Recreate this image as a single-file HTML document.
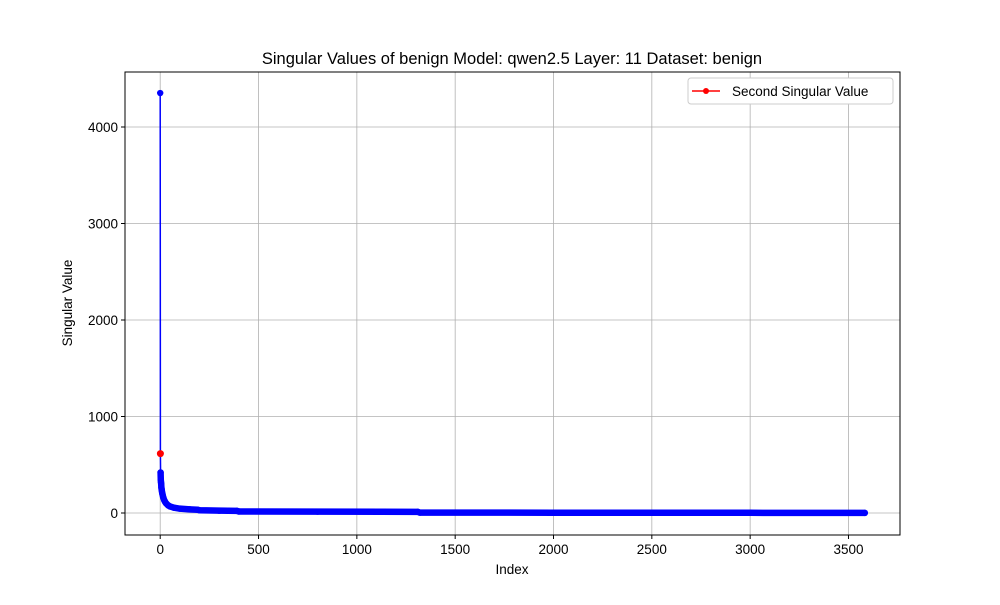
<!DOCTYPE html>
<html><head><meta charset="utf-8"><style>
body{margin:0;background:#fff}
svg{font-family:"Liberation Sans","DejaVu Sans",sans-serif}
</style></head><body>
<svg id="chart" width="1000" height="600">
<rect width="1000" height="600" fill="#fff"/>
<g id="grid"></g>
<g id="series"></g>
<rect x="125" y="72" width="775" height="463" fill="none" stroke="#000" stroke-width="1"/>
<g id="ticks"></g>
<text x="512" y="64" text-anchor="middle" font-size="16.5">Singular Values of benign Model: qwen2.5 Layer: 11 Dataset: benign</text>
<text x="512" y="574" text-anchor="middle" font-size="13.5">Index</text>
<text transform="translate(72,303) rotate(-90)" text-anchor="middle" font-size="13.5">Singular Value</text>
<g>
<rect x="688" y="78" width="205" height="26" rx="3" fill="#fff" stroke="#ccc"/>
<line x1="692" y1="91" x2="720" y2="91" stroke="red" stroke-width="1.5"/>
<circle cx="706" cy="91" r="3" fill="red"/>
<text x="732" y="96" font-size="13.5">Second Singular Value</text>
</g>
</svg>
<script>
const indices=[0,1,2,3,4,5,6,7,8,10,12,15,20,25,30,40,50,70,100,150,190,200,300,390,400,800,1310,1320,2000,3000,3583];
const values=[4352,615,420,345,320,300,265,250,235,210,190,165,135,115,100,80,68,55,45,38,34,28,24,22,16,14,12,4,3,2,1];
const xTicks=[0,500,1000,1500,2000,2500,3000,3500];
const yTicks=[0,1000,2000,3000,4000];
const secondIndex=1;
const X0=125,X1=900,Y0=535,Y1=72;
const xmin=-179,xmax=3762,ymin=-228,ymax=4570;
const sx=v=>X0+(v-xmin)/(xmax-xmin)*(X1-X0);
const sy=v=>Y0-(v-ymin)/(ymax-ymin)*(Y0-Y1);
const NS="http://www.w3.org/2000/svg";
function mk(t,a,p){const e=document.createElementNS(NS,t);for(const k in a)e.setAttribute(k,a[k]);p.appendChild(e);return e;}
const grid=document.getElementById('grid'),ticks=document.getElementById('ticks'),ser=document.getElementById('series');
xTicks.forEach(t=>{const x=sx(t);
const g=mk('line',{x1:x,x2:x,y1:Y1,y2:Y0,stroke:'#b0b0b0','stroke-width':0.8},grid);


const l=mk('line',{x1:x,x2:x,y1:Y0,y2:Y0+4,stroke:'#000'},ticks);


const tx=mk('text',{x:x,y:Y0+19,'text-anchor':'middle','font-size':13.5},ticks);tx.textContent=t;


});
yTicks.forEach(t=>{const y=sy(t);
const g=mk('line',{x1:X0,x2:X1,y1:y,y2:y,stroke:'#b0b0b0','stroke-width':0.8},grid);


const l=mk('line',{x1:X0-4,x2:X0,y1:y,y2:y,stroke:'#000'},ticks);


const tx=mk('text',{x:X0-7,y:y+5,'text-anchor':'end','font-size':13.5},ticks);tx.textContent=t;


});
let d='';indices.forEach((i,k)=>{d+=(k?'L':'M')+sx(i).toFixed(2)+','+sy(values[k]).toFixed(2);});
let db='';indices.forEach((i,k)=>{if(k<2)return;db+=(k>2?'L':'M')+sx(i).toFixed(2)+','+sy(values[k]).toFixed(2);});
const band=mk('path',{d:db,fill:'none',stroke:'blue','stroke-width':6.5,'stroke-linejoin':'round','stroke-linecap':'round'},ser);


const line=mk('path',{d:d,fill:'none',stroke:'blue','stroke-width':1.5},ser);


indices.forEach((i,k)=>{
const c=mk('circle',{cx:sx(i),cy:sy(values[k]),r:3.2,fill:'blue'},ser);


});
const sk=indices.indexOf(secondIndex);
const r=mk('circle',{cx:sx(indices[sk]),cy:sy(values[sk]),r:3.5,fill:'red'},ser);


</script>
</body></html>
